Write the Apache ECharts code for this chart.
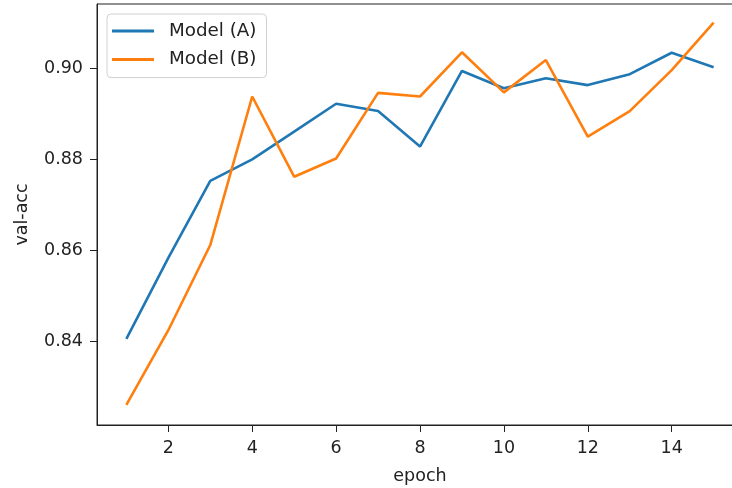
<!DOCTYPE html>
<html>
<head>
<meta charset="utf-8">
<script src="https://cdn.jsdelivr.net/npm/echarts@6/dist/echarts.min.js"></script>
<style>
html,body{margin:0;padding:0;background:#fff;}
#chart{width:732px;height:488px;}
</style>
</head>
<body>
<div id="chart"></div>
<script>
const epochs = [1,2,3,4,5,6,7,8,9,10,11,12,13,14,15];
const modelA = [0.8406,0.8584,0.8753,0.8800,0.8861,0.8922,0.8906,0.8828,0.8994,0.8956,0.8978,0.8963,0.8987,0.9034,0.9002];
const modelB = [0.8261,0.8425,0.8612,0.8938,0.8762,0.8802,0.8946,0.8938,0.9035,0.8947,0.9018,0.8850,0.8906,0.8996,0.9100];
const xTicks = [2,4,6,8,10,12,14];
const yTicks = [0.84,0.86,0.88,0.90];
const seriesNames = ['Model (A)','Model (B)'];

const FONT = 'DejaVu Sans';
const FS = 17.5;
const chart = echarts.init(document.getElementById('chart'), null, {renderer:'canvas'});
chart.setOption({
  animation:false,
  backgroundColor:'#fff',
  grid:{left:97, top:4, right:-11, bottom:63, show:true, borderColor:'#222', borderWidth:1,
        containLabel:false, outerBoundsMode:'none'},
  legend:{
    orient:'vertical', left:107, top:14,
    data:seriesNames,
    icon:'rect', itemWidth:42, itemHeight:3, itemGap:8.6,
    padding:[7,10,8,5],
    backgroundColor:'rgba(255,255,255,0.8)', borderColor:'#d0d0d0', borderWidth:1, borderRadius:4,
    textStyle:{fontFamily:FONT, fontSize:18.3, color:'#222', lineHeight:20, padding:[0,0,0,10]}
  },
  xAxis:{
    type:'value', min:0.3, max:15.7,
    name:'epoch', nameLocation:'middle', nameGap:42,
    nameTextStyle:{fontFamily:FONT, fontSize:FS, color:'#222'},
    axisLine:{show:true, lineStyle:{color:'#222', width:1}},
    axisTick:{show:true, length:7, lineStyle:{color:'#222'}, customValues:xTicks},
    axisLabel:{fontFamily:FONT, fontSize:FS, color:'#222', margin:14, customValues:xTicks},
    splitLine:{show:false}
  },
  yAxis:{
    type:'value', min:0.8217, max:0.9141,
    name:'val-acc', nameLocation:'middle', nameGap:66, nameRotate:90,
    nameTextStyle:{fontFamily:FONT, fontSize:FS, color:'#222'},
    axisLine:{show:true, lineStyle:{color:'#222', width:1}},
    axisTick:{show:true, length:7, lineStyle:{color:'#222'}, customValues:yTicks},
    axisLabel:{fontFamily:FONT, fontSize:FS, color:'#222', margin:14, customValues:yTicks,
      formatter:v=>v.toFixed(2)},
    splitLine:{show:false}
  },
  series:[
    {name:seriesNames[0], type:'line', data:epochs.map((e,i)=>[e,modelA[i]]), showSymbol:false,
     lineStyle:{color:'#1f77b4', width:2.6}, itemStyle:{color:'#1f77b4'}, z:2},
    {name:seriesNames[1], type:'line', data:epochs.map((e,i)=>[e,modelB[i]]), showSymbol:false,
     lineStyle:{color:'#ff7f0e', width:2.6}, itemStyle:{color:'#ff7f0e'}, z:3}
  ]
});
</script>
</body>
</html>
